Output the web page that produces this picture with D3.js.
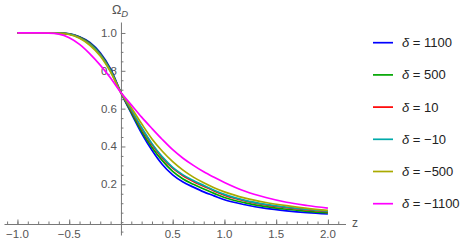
<!DOCTYPE html>
<html>
<head>
<meta charset="utf-8">
<script src="https://cdn.jsdelivr.net/npm/d3@7"></script>
<style>
  body { margin: 0; background: #fff; }
  text { font-family: "Liberation Sans", Arial, sans-serif; }
</style>
</head>
<body>
<svg></svg>
<script>
//tamaño
var width = 467;
var height = 244;

//los datos
var zs = [-1, -0.9, -0.8, -0.7, -0.6, -0.5, -0.4, -0.3, -0.2, -0.1, 0,
  0.1, 0.2, 0.3, 0.4, 0.5, 0.6, 0.7, 0.8, 0.9, 1.0, 1.2, 1.4, 1.6, 1.8, 2.0];
var deltas = ["1100", "500", "10", "\u221210", "\u2212500", "\u22121100"];
var omega1100 = [1, 1, 1, 1, 0.9995, 0.996, 0.98, 0.95, 0.895, 0.81, 0.685,
  0.575, 0.47, 0.38, 0.305, 0.25, 0.212, 0.185, 0.16, 0.139, 0.118, 0.092, 0.073, 0.06, 0.05, 0.043];
var omega500 = [1, 1, 1, 1, 0.9995, 0.995, 0.978, 0.946, 0.89, 0.805, 0.685,
  0.58, 0.48, 0.395, 0.325, 0.268, 0.228, 0.2, 0.175, 0.152, 0.13, 0.102, 0.082, 0.068, 0.057, 0.049];
var omega10 = [1, 1, 1, 1, 0.999, 0.994, 0.976, 0.942, 0.886, 0.8, 0.685,
  0.59, 0.495, 0.41, 0.34, 0.285, 0.245, 0.215, 0.19, 0.165, 0.143, 0.112, 0.091, 0.076, 0.065, 0.056];
var omegaM10 = [1, 1, 1, 1, 0.999, 0.994, 0.975, 0.941, 0.885, 0.799, 0.685,
  0.595, 0.5, 0.415, 0.345, 0.29, 0.25, 0.22, 0.194, 0.169, 0.147, 0.115, 0.094, 0.079, 0.067, 0.058];
var omegaM500 = [1, 1, 1, 1, 0.998, 0.992, 0.972, 0.935, 0.878, 0.793, 0.685,
  0.605, 0.52, 0.44, 0.375, 0.32, 0.275, 0.238, 0.208, 0.182, 0.16, 0.127, 0.104, 0.087, 0.073, 0.062];
var omegaM1100 = [1, 1, 1, 0.999, 0.994, 0.975, 0.94, 0.89, 0.83, 0.762, 0.685,
  0.62, 0.555, 0.495, 0.437, 0.383, 0.338, 0.3, 0.266, 0.237, 0.21, 0.163, 0.13, 0.105, 0.088, 0.074];
var series = [omega1100, omega500, omega10, omegaM10, omegaM500, omegaM1100];
var colors = ["#0000ff", "#00a600", "#ff0000", "#00aaaa", "#aaaa00", "#ff00ff"];

//ticks
var xTicks = [-1, -0.5, 0.5, 1, 1.5, 2];
var xMinor = d3.range(-11, 22).map(function(i) { return i / 10; });
var yTicks = [0.2, 0.4, 0.6, 0.8, 1.0];
var yMinor = d3.range(-1, 21).map(function(i) { return i / 20; });

var svg = d3.select("svg")
  .attr("width", width)
  .attr("height", height);

//escalas
var x = d3.scaleLinear().domain([-1.13, 2.17]).range([4, 345.5]);
var y = d3.scaleLinear().domain([-0.068, 1.058]).range([235, 22]);
var axisY = 224;
var axisColor = "#777";
var labelColor = "#555";

//eje x
var gx = svg.append("g").attr("transform", "translate(0," + axisY + ")");
gx.call(d3.axisTop(x).tickValues(xMinor).tickSizeInner(2.5).tickSizeOuter(0).tickFormat(""));
gx.append("g").call(d3.axisTop(x).tickValues(xTicks).tickSize(4.5).tickFormat(""))
  .select(".domain").remove();
gx.selectAll("path, line").attr("stroke", axisColor);
gx.selectAll("text.xl")
  .data(xTicks)
  .enter()
  .append("text")
  .attr("x", function(d) { return x(d); })
  .attr("y", 14)
  .attr("text-anchor", "middle")
  .attr("font-size", 11.5)
  .attr("fill", labelColor)
  .text(function(d) { return d3.format(".1f")(d).replace("-", "\u2212"); });
svg.append("text")
  .attr("x", 355)
  .attr("y", 227)
  .attr("text-anchor", "middle")
  .attr("font-size", 12)
  .attr("fill", labelColor)
  .text("z");

//eje y
var gy = svg.append("g").attr("transform", "translate(" + x(0) + ",0)");
gy.call(d3.axisRight(y).tickValues(yMinor.filter(function(d) { return yTicks.indexOf(d) < 0; }))
  .tickSizeInner(2.5).tickSizeOuter(0).tickFormat(""));
gy.append("g").call(d3.axisRight(y).tickValues(yTicks).tickSize(4.5).tickFormat(""))
  .select(".domain").remove();
gy.selectAll("path, line").attr("stroke", axisColor);
gy.selectAll("text.yl")
  .data(yTicks)
  .enter()
  .append("text")
  .attr("x", -4)
  .attr("y", function(d) { return y(d) + 4; })
  .attr("text-anchor", "end")
  .attr("font-size", 11.5)
  .attr("fill", labelColor)
  .text(function(d) { return d3.format(".1f")(d); });
var yl = svg.append("text")
  .attr("x", 112)
  .attr("y", 14)
  .attr("font-size", 12.5)
  .attr("fill", labelColor)
  .text("\u03A9");
yl.append("tspan")
  .attr("dy", 3)
  .attr("font-size", 9.5)
  .attr("font-style", "italic")
  .text("D");

//curvas
var line = d3.line()
  .x(function(d, i) { return x(zs[i]); })
  .y(function(d) { return y(d); })
  .curve(d3.curveMonotoneX);
svg.selectAll("path.curve")
  .data(series)
  .enter()
  .append("path")
  .attr("class", "curve")
  .attr("d", line)
  .attr("fill", "none")
  .attr("stroke", function(d, i) { return colors[i]; })
  .attr("stroke-width", 1.7);

//leyenda
var leg = svg.selectAll("g.leg")
  .data(deltas)
  .enter()
  .append("g")
  .attr("class", "leg")
  .attr("transform", function(d, i) { return "translate(373," + (42.7 + i * 32.2) + ")"; });
leg.append("line")
  .attr("x1", 0)
  .attr("x2", 20)
  .attr("stroke", function(d, i) { return colors[i]; })
  .attr("stroke-width", 1.7);
var lt = leg.append("text")
  .attr("x", 29)
  .attr("y", 4.5)
  .attr("font-size", 13)
  .attr("fill", "#222");
lt.append("tspan").attr("font-style", "italic").text("\u03B4");
lt.append("tspan").text(function(d) { return " = " + d; });
</script>
</body>
</html>
